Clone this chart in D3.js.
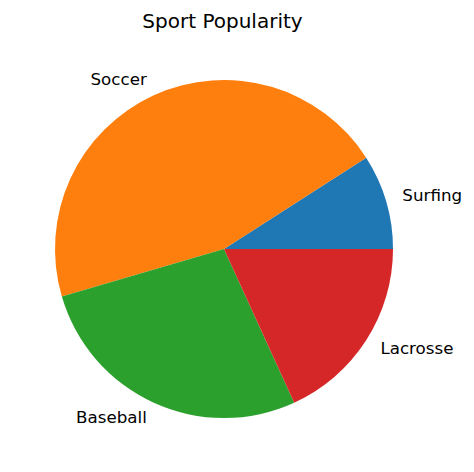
<!DOCTYPE html>
<html><head><meta charset="utf-8">
<script src="https://cdn.jsdelivr.net/npm/d3@7"></script>
<style>body{margin:0;background:#fff}svg{display:block}</style>
</head><body>
<script>
const categories = ["Surfing", "Soccer", "Baseball", "Lacrosse"];
const values = [10, 50, 30, 20];
const colors = ["#1f77b4", "#ff7f0e", "#2ca02c", "#d62728"];
const title = "Sport Popularity";

const W = 474, H = 472, cx = 224, cy = 249, R = 169;
const svg = d3.select("body").append("svg").attr("width", W).attr("height", H);
svg.append("rect").attr("width", W).attr("height", H).attr("fill", "#fff");

// matplotlib: start at east, counterclockwise. d3 angle: 0 at north, clockwise.
const pie = d3.pie().sort(null).value(d => d)
  .startAngle(Math.PI / 2).endAngle(Math.PI / 2 - 2 * Math.PI);
const arcs = pie(values);
const arc = d3.arc().innerRadius(0).outerRadius(R);
const g = svg.append("g").attr("transform", `translate(${cx},${cy})`);
g.selectAll("path").data(arcs).enter().append("path")
  .attr("d", arc).attr("fill", (d, i) => colors[i]);

g.selectAll("text").data(arcs).enter().append("text")
  .each(function (d, i) {
    const mid = (d.startAngle + d.endAngle) / 2;
    const x = Math.sin(mid) * R * 1.1, y = -Math.cos(mid) * R * 1.1;
    d3.select(this).attr("x", x).attr("y", y - 1.2)
      .attr("text-anchor", x > 0 ? "start" : "end")
      .attr("dominant-baseline", "central")
      .text(categories[i]);
  })
  .attr("font-family", "DejaVu Sans").attr("font-size", 16.7).attr("fill", "#000");

svg.append("text").attr("x", 222.5).attr("y", 28).attr("text-anchor", "middle")
  .attr("font-family", "DejaVu Sans").attr("font-size", 20).attr("fill", "#000")
  .text(title);
</script>
</body></html>
